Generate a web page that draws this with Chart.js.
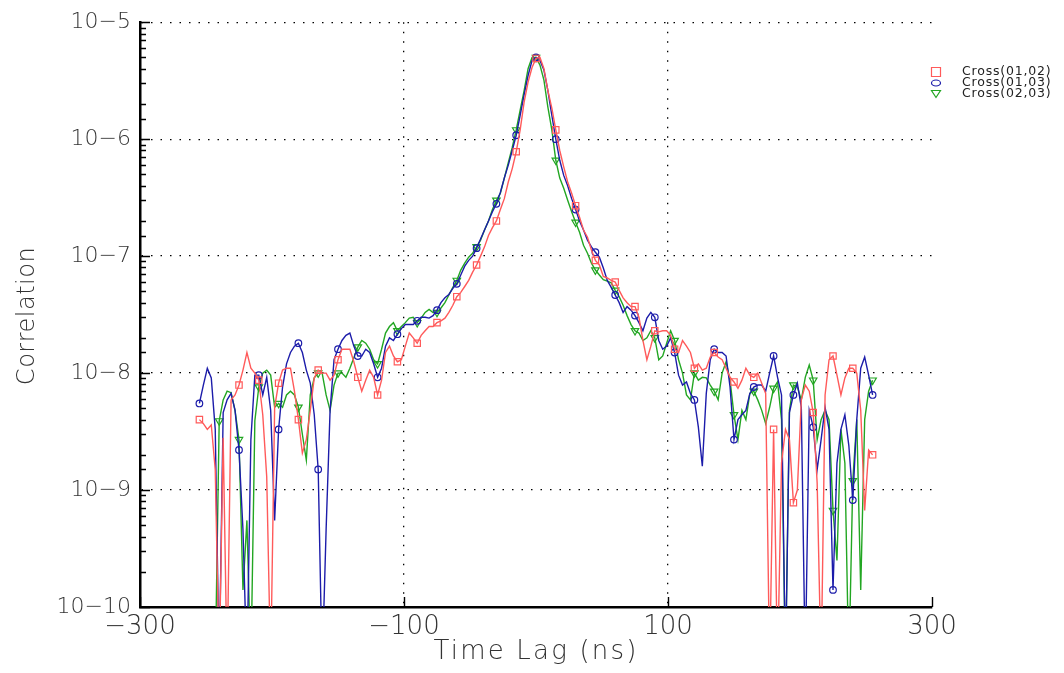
<!DOCTYPE html>
<html>
<head>
<meta charset="utf-8">
<script src="https://cdn.jsdelivr.net/npm/chart.js@4.4.1/dist/chart.umd.min.js"></script>
<style>
  html, body { margin: 0; padding: 0; background: #fff; }
  #wrap { width: 1064px; height: 673px; }
</style>
</head>
<body>
<div id="wrap"><canvas id="myChart" width="1064" height="673"></canvas></div>
<script>
// time lag in ns (same sampling for all three curves)
const lags = [
  -255,-252,-249,-246,-243,-240,-237,-234,-231,-228,-225,-222,-219,-216,-213,
  -210,-207,-204,-201,-198,-195,-192,-189,-186,-183,-180,-177,-174,-171,-168,
  -165,-162,-159,-156,-153,-150,-147,-144,-141,-138,-135,-132,-129,-126,-123,
  -120,-117,-114,-111,-108,-105,-102,-99,-96,-93,-90,-87,-84,-81,-78,
  -75,-72,-69,-66,-63,-60,-57,-54,-51,-48,-45,-42,-39,-36,-33,
  -30,-27,-24,-21,-18,-15,-12,-9,-6,-3,0,3,6,9,12,
  15,18,21,24,27,30,33,36,39,42,45,48,51,54,57,
  60,63,66,69,72,75,78,81,84,87,90,93,96,99,102,
  105,108,111,114,117,120,123,126,129,132,135,138,141,144,147,
  150,153,156,159,162,165,168,171,174,177,180,183,186,189,192,
  195,198,201,204,207,210,213,216,219,222,225,228,231,234,237,
  240,243,246,249,252,255
];

// Cross(01,02) - red
const cross0102 = [
  4.0e-9,3.7e-9,3.3e-9,3.6e-9,1.5e-9,3e-11,2.8e-9,3e-11,5.9e-9,6.5e-9,7.9e-9,1.06e-8,1.5e-8,1.1e-8,1.0e-8,
  8.7e-9,4.4e-9,1.3e-9,3e-11,5.1e-9,8.2e-9,1.06e-8,1.1e-8,1.1e-8,7.0e-9,4.0e-9,2.07e-9,2.7e-9,4.8e-9,9.1e-9,
  1.06e-8,1.0e-8,1.0e-8,8.7e-9,9.6e-9,1.3e-8,1.6e-8,1.6e-8,1.6e-8,1.25e-8,9.2e-9,7.0e-9,8.7e-9,1.06e-8,9.2e-9,
  6.5e-9,8.7e-9,1.5e-8,1.7e-8,1.4e-8,1.25e-8,1.3e-8,1.7e-8,2.2e-8,2.0e-8,1.8e-8,2.1e-8,2.3e-8,2.5e-8,2.5e-8,
  2.7e-8,2.8e-8,2.95e-8,3.3e-8,3.8e-8,4.5e-8,4.9e-8,5.5e-8,6.2e-8,7.3e-8,8.4e-8,1.0e-7,1.2e-7,1.5e-7,1.75e-7,
  2.0e-7,2.5e-7,3.1e-7,4.3e-7,5.6e-7,7.8e-7,1.2e-6,2.07e-6,3.07e-6,4.1e-6,4.9e-6,5.0e-6,4.0e-6,2.6e-6,1.84e-6,
  1.2e-6,8.0e-7,5.8e-7,4.3e-7,3.45e-7,2.7e-7,2.15e-7,1.67e-7,1.45e-7,1.13e-7,9.2e-8,8.4e-8,6.7e-8,6.5e-8,6.2e-8,
  6.0e-8,5.1e-8,4.4e-8,4.0e-8,3.7e-8,3.7e-8,3.0e-8,1.9e-8,1.3e-8,1.7e-8,2.3e-8,2.25e-8,2.3e-8,2.3e-8,2.1e-8,
  1.6e-8,1.5e-8,1.9e-8,1.7e-8,1.5e-8,1.1e-8,1.2e-8,1.06e-8,1.1e-8,1.37e-8,1.5e-8,1.37e-8,1.3e-8,1.1e-8,9.2e-9,
  8.4e-9,7.4e-9,8.7e-9,1.1e-8,9.6e-9,9.2e-9,1.0e-8,8.2e-9,6.7e-9,3e-11,3.3e-9,3e-11,1.7e-9,3.3e-9,2.7e-9,
  7.8e-10,1.0e-9,5.9e-9,7.9e-9,7.0e-9,4.6e-9,1.15e-9,3e-11,6.5e-9,1.3e-8,1.4e-8,9.6e-9,6.5e-9,9.1e-9,1.1e-8,
  1.1e-8,1.0e-8,4.8e-9,6.7e-10,2.2e-9,2.0e-9
];

// Cross(01,03) - blue
const cross0103 = [
  5.5e-9,7.9e-9,1.1e-8,9.1e-9,3.3e-9,3e-11,4.6e-9,5.9e-9,6.7e-9,4.8e-9,2.2e-9,4.6e-10,3e-11,2.7e-9,9.6e-9,
  9.6e-9,6.5e-9,9.2e-9,4.8e-9,5.5e-10,3.3e-9,7.6e-9,1.2e-8,1.5e-8,1.7e-8,1.8e-8,1.5e-8,1.06e-8,8.2e-9,4.4e-9,
  1.5e-9,3e-11,4.6e-10,4.8e-9,1.3e-8,1.6e-8,1.9e-8,2.1e-8,2.2e-8,1.7e-8,1.4e-8,1.4e-8,1.6e-8,1.5e-8,1.2e-8,
  9.2e-9,1.1e-8,1.7e-8,2.0e-8,1.9e-8,2.15e-8,2.4e-8,2.6e-8,2.6e-8,2.6e-8,2.8e-8,3.0e-8,3.0e-8,2.95e-8,3.1e-8,
  3.45e-8,4.0e-8,4.4e-8,4.7e-8,5.3e-8,5.8e-8,6.9e-8,8.2e-8,9.2e-8,1.0e-7,1.17e-7,1.4e-7,1.67e-7,2.0e-7,2.4e-7,
  2.8e-7,3.5e-7,4.65e-7,6.0e-7,8.0e-7,1.08e-6,1.6e-6,2.4e-6,3.5e-6,4.7e-6,5.0e-6,4.7e-6,3.9e-6,2.6e-6,1.6e-6,
  1.0e-6,6.6e-7,4.9e-7,4.0e-7,3.1e-7,2.5e-7,2.0e-7,1.67e-7,1.37e-7,1.2e-7,1.08e-7,9.8e-8,7.9e-8,6.2e-8,5.4e-8,
  4.65e-8,4.0e-8,3.3e-8,3.7e-8,3.45e-8,3.1e-8,2.7e-8,2.3e-8,2.95e-8,3.3e-8,3.0e-8,1.9e-8,1.6e-8,1.7e-8,2.0e-8,
  1.5e-8,9.6e-9,7.9e-9,8.4e-9,6.7e-9,5.9e-9,3.45e-9,1.6e-9,6.7e-9,1.3e-8,1.6e-8,1.5e-8,1.5e-8,1.4e-8,7.6e-9,
  2.7e-9,4.0e-9,4.4e-9,4.8e-9,6.7e-9,7.6e-9,7.9e-9,7.9e-9,7.0e-9,1.0e-8,1.4e-8,9.2e-9,6.5e-9,3e-11,4.6e-9,
  6.5e-9,8.2e-9,5.1e-9,3e-11,4.8e-9,3.45e-9,1.5e-9,2.7e-9,5.1e-9,3.3e-9,1.4e-10,1.7e-9,3.3e-9,4.4e-9,2.4e-9,
  8.2e-10,4.0e-9,1.1e-8,1.37e-8,9.6e-9,6.5e-9
];

// Cross(02,03) - green
const cross0203 = [
  null,null,null,null,3e-11,3.9e-9,5.9e-9,7.0e-9,6.8e-9,4.8e-9,2.7e-9,1.4e-10,5.5e-10,3e-11,3.9e-9,
  7.6e-9,1.0e-8,1.06e-8,9.6e-9,5.1e-9,5.5e-9,5.1e-9,6.5e-9,7.0e-9,6.5e-9,5.1e-9,3.0e-9,1.8e-9,6.5e-9,9.1e-9,
  1.0e-8,1.0e-8,6.5e-9,4.8e-9,7.9e-9,1.0e-8,1.0e-8,9.2e-9,1.1e-8,1.35e-8,1.67e-8,1.9e-8,1.8e-8,1.6e-8,1.3e-8,
  1.2e-8,1.6e-8,2.2e-8,2.5e-8,2.7e-8,2.3e-8,2.5e-8,2.7e-8,2.95e-8,3.0e-8,2.7e-8,2.95e-8,3.3e-8,3.5e-8,3.3e-8,
  3.3e-8,3.6e-8,4.0e-8,4.65e-8,5.4e-8,6.2e-8,7.6e-8,8.7e-8,9.8e-8,1.06e-7,1.2e-7,1.37e-7,1.67e-7,2.0e-7,2.5e-7,
  3.0e-7,3.45e-7,4.65e-7,6.3e-7,8.5e-7,1.2e-6,1.77e-6,2.6e-6,4.0e-6,5.0e-6,5.0e-6,4.3e-6,3.2e-6,1.88e-6,1.2e-6,
  6.6e-7,4.65e-7,3.8e-7,3.0e-7,2.4e-7,1.95e-7,1.6e-7,1.24e-7,1.06e-7,8.7e-8,7.6e-8,6.9e-8,6.3e-8,6.1e-8,5.9e-8,
  5.1e-8,4.5e-8,3.8e-8,3.1e-8,2.6e-8,2.3e-8,2.2e-8,1.9e-8,2.0e-8,2.3e-8,2.0e-8,1.3e-8,1.4e-8,1.8e-8,2.3e-8,
  1.9e-8,1.3e-8,1.0e-8,6.5e-9,5.9e-9,1.0e-8,8.7e-9,9.2e-9,9.1e-9,7.9e-9,7.0e-9,5.9e-9,1.0e-8,1.25e-8,8.7e-9,
  4.4e-9,2.7e-9,4.8e-9,4.0e-9,6.7e-9,7.0e-9,5.9e-9,4.8e-9,3.7e-9,5.1e-9,7.4e-9,8.4e-9,4.0e-9,3e-11,4.8e-9,
  7.9e-9,7.6e-9,5.9e-9,9.2e-9,1.17e-8,8.7e-9,2.7e-9,4.0e-9,4.8e-9,4.0e-9,6.7e-10,2.5e-10,3.3e-9,1.7e-9,3e-11,
  1.2e-9,4.0e-9,1.4e-10,4.0e-9,7.0e-9,8.7e-9
];

const xTickValues = [-300, -100, 100, 300];
const seriesNames = ['Cross(01,02)', 'Cross(01,03)', 'Cross(02,03)'];
const seriesColors = ['#ff5a5a', '#1c1caa', '#22a622'];
const seriesMarkers = ['rect', 'circle', 'triangle'];

const FONT = '"DejaVu Sans", "Liberation Sans", sans-serif';
const markEvery = 5;

function isDecade(v) {
  const e = Math.round(Math.log10(v));
  return Math.abs(v / Math.pow(10, e) - 1) < 1e-6;
}
function minusSign(s) {
  return String(s).replace('-', '\u2212');
}

function makeSet(i, ys, radius, rotation) {
  return {
    label: seriesNames[i],
    data: lags.map((x, k) => ({ x: x, y: ys[k] })),
    borderColor: seriesColors[i],
    borderWidth: 1.4,
    pointStyle: seriesMarkers[i],
    rotation: rotation,
    pointRadius: ctx => (ctx.dataIndex % markEvery === 0 ? radius : 0),
    pointBorderColor: seriesColors[i],
    pointBackgroundColor: 'rgba(255,255,255,0)',
    pointBorderWidth: 1.2,
    pointHoverRadius: 0,
    tension: 0,
    spanGaps: false
  };
}

// axis ticks inside the plot, axis titles and the small legend
const decorPlugin = {
  id: 'decor',
  afterDraw(chart) {
    const { ctx, chartArea: a, scales } = chart;
    const x = scales.x, y = scales.y;
    ctx.save();
    ctx.strokeStyle = '#000';
    ctx.lineWidth = 1.4;
    ctx.beginPath();
    y.ticks.forEach(t => {
      const py = Math.round(y.getPixelForValue(t.value)) + 0.5;
      const len = isDecade(t.value) ? 10 : 6;
      ctx.moveTo(a.left, py);
      ctx.lineTo(a.left + len, py);
    });
    x.ticks.forEach(t => {
      const px = Math.round(x.getPixelForValue(t.value)) + 0.5;
      ctx.moveTo(px, a.bottom);
      ctx.lineTo(px, a.bottom - 10);
    });
    ctx.stroke();

    // axis titles
    ctx.fillStyle = '#333';
    ctx.textAlign = 'center';
    ctx.textBaseline = 'middle';
    ctx.font = '200 26px ' + FONT;
    ctx.letterSpacing = '2.2px';
    ctx.fillText('Time Lag (ns)', (a.left + a.right) / 2, 652);
    ctx.save();
    ctx.translate(28, 316);
    ctx.rotate(-Math.PI / 2);
    ctx.font = '200 24px ' + FONT;
    ctx.letterSpacing = '0.5px';
    ctx.fillText('Correlation', 0, 0);
    ctx.restore();

    // legend
    ctx.letterSpacing = '0.8px';
    ctx.font = '12.5px ' + FONT;
    ctx.textAlign = 'left';
    const lx = 936, tx = 962;
    seriesNames.forEach((name, i) => {
      const ly = 72 + i * 11;
      ctx.strokeStyle = seriesColors[i];
      ctx.lineWidth = 1.2;
      ctx.beginPath();
      if (seriesMarkers[i] === 'rect') {
        ctx.rect(lx - 4.5, ly - 4.5, 9, 9);
      } else if (seriesMarkers[i] === 'circle') {
        ctx.ellipse(lx, ly, 4.5, 3, 0, 0, Math.PI * 2);
      } else {
        ctx.moveTo(lx - 4.5, ly - 3.5);
        ctx.lineTo(lx + 4.5, ly - 3.5);
        ctx.lineTo(lx, ly + 3.5);
        ctx.closePath();
      }
      ctx.stroke();
      ctx.fillStyle = '#222';
      ctx.fillText(name, tx, ly);
    });
    ctx.restore();
  }
};

new Chart(document.getElementById('myChart').getContext('2d'), {
  type: 'line',
  data: {
    datasets: [
      makeSet(0, cross0102, 4.5, 0),
      makeSet(1, cross0103, 3.3, 0),
      makeSet(2, cross0203, 4.3, 180)
    ]
  },
  options: {
    responsive: false,
    animation: false,
    devicePixelRatio: 1,
    events: [],
    layout: { padding: { top: 22, right: 132, left: 0, bottom: 0 } },
    plugins: { legend: { display: false }, tooltip: { enabled: false } },
    scales: {
      x: {
        type: 'linear',
        min: -300,
        max: 300,
        afterBuildTicks: s => { s.ticks = xTickValues.map(v => ({ value: v })); },
        afterFit: s => { s.height = 66; },
        ticks: {
          autoSkip: false,
          maxRotation: 0,
          padding: 5,
          color: '#333',
          font: { family: FONT, size: 26, weight: '200' },
          callback: v => minusSign(v)
        },
        grid: {
          drawTicks: false,
          lineWidth: 1.3,
          color: c => (c.tick && Math.abs(c.tick.value) < 300 ? '#000' : 'rgba(0,0,0,0)')
        },
        border: { display: true, color: '#000', width: 2.5, dash: [1.5, 8] }
      },
      y: {
        type: 'logarithmic',
        min: 1e-10,
        max: 1e-5,
        afterFit: s => { s.width = 140; },
        ticks: {
          autoSkip: false,
          padding: 9,
          color: '#333',
          font: { family: FONT, size: 22, weight: '200' },
          callback: v => (isDecade(v) ? '10' + minusSign(Math.round(Math.log10(v))) : '')
        },
        grid: {
          drawTicks: false,
          lineWidth: 1.3,
          color: c => (c.tick && isDecade(c.tick.value) ? '#000' : 'rgba(0,0,0,0)')
        },
        border: { display: true, color: '#000', width: 2.5, dash: [1.5, 8] }
      }
    }
  },
  plugins: [decorPlugin]
});
</script>
</body>
</html>
